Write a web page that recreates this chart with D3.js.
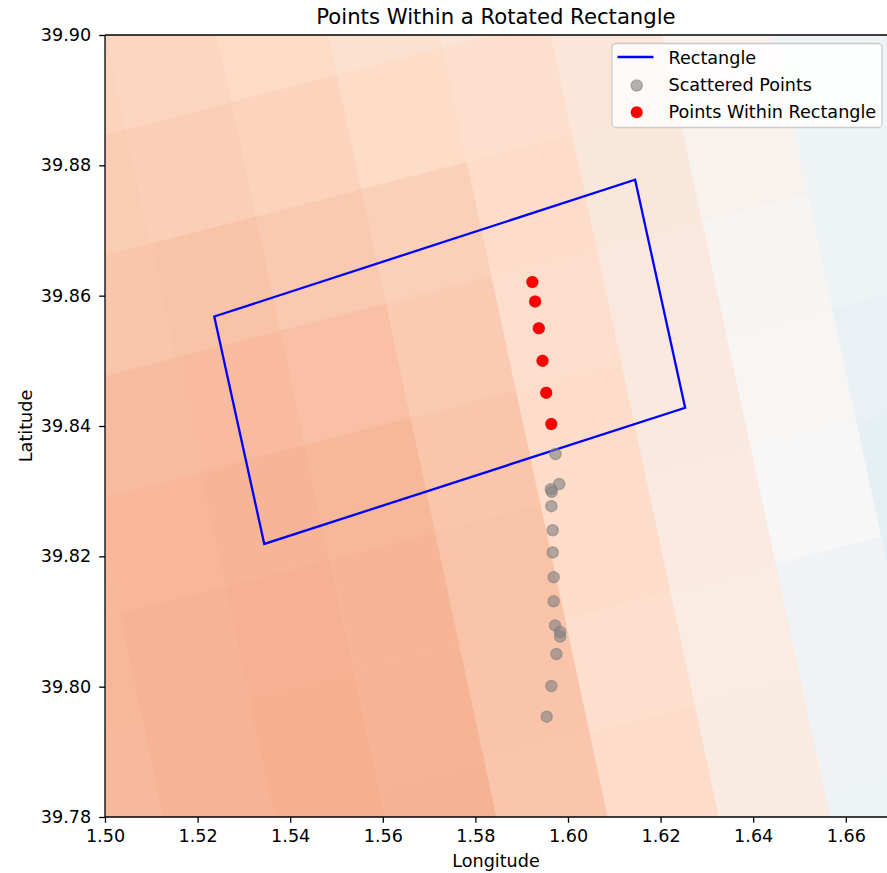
<!DOCTYPE html>
<html>
<head>
<meta charset="utf-8">
<script src="https://cdn.jsdelivr.net/npm/d3@7"></script>
<style>
body { margin: 0; background: #fff; }
text { font-family: "DejaVu Sans", sans-serif; fill: #000; }
</style>
</head>
<body>
<div id="container"></div>
<script>
// rectangle corners (lon, lat)
var rectLon = [1.5236, 1.6145, 1.6253, 1.5344];
var rectLat = [39.8568, 39.8778, 39.8428, 39.8219];

// scattered points (lon, lat)
var pointLon = [1.5923, 1.5929, 1.5937, 1.5945, 1.5953, 1.5964,
                1.5973, 1.5981, 1.5963, 1.5965, 1.5964, 1.5967, 1.5967,
                1.5969, 1.5969, 1.5972, 1.5983, 1.5983, 1.5975, 1.5964, 1.5954];
var pointLat = [39.8621, 39.8591, 39.8550, 39.8500, 39.8451, 39.8403,
                39.8357, 39.8311, 39.8303, 39.8299, 39.8277, 39.8240, 39.8206,
                39.8168, 39.8131, 39.8094, 39.8084, 39.8077, 39.8050, 39.8001, 39.7954];

var xTicks = [1.50, 1.52, 1.54, 1.56, 1.58, 1.60, 1.62, 1.64, 1.66];
var yTicks = [39.78, 39.80, 39.82, 39.84, 39.86, 39.88, 39.90];

// background mesh (rotated grid), values per cell, rows j = -1..7, columns i = -5..4
var meshOrigin = [1.57293, 39.89803];
var meshStepI = [0.022762, 0.004174];
var meshStepJ = [0.005301, -0.017520];
var meshI0 = -5, meshJ0 = -1;
var meshValues = [
    [0.23, 0.23, 0.22, 0.20, 0.16, 0.13, 0.10, 0.04, -0.04, -0.09],
    [0.26, 0.255, 0.245, 0.225, 0.195, 0.175, 0.125, 0.04, -0.045, -0.09],
    [0.28, 0.28, 0.29, 0.265, 0.24, 0.19, 0.115, 0.035, -0.045, -0.09],
    [0.31, 0.31, 0.32, 0.30, 0.26, 0.185, 0.105, 0.02, -0.05, -0.095],
    [0.33, 0.335, 0.34, 0.33, 0.278, 0.19, 0.10, 0.01, -0.07, -0.10],
    [0.33, 0.345, 0.355, 0.34, 0.29, 0.19, 0.09, 0.0, -0.09, -0.10],
    [0.326, 0.345, 0.359, 0.345, 0.285, 0.175, 0.085, -0.04, -0.10, -0.10],
    [0.326, 0.345, 0.359, 0.348, 0.278, 0.19, 0.086, -0.042, -0.10, -0.10],
    [0.326, 0.345, 0.359, 0.348, 0.278, 0.19, 0.086, -0.045, -0.10, -0.10]
];

var rdbu = ["#67001f", "#b2182b", "#d6604d", "#f4a582", "#fddbc7", "#f7f7f7",
            "#d1e5f0", "#92c5de", "#4393c3", "#2166ac", "#053061"];

var width = 887,
    height = 873;

var x = d3.scaleLinear().domain([1.50, 1.6689]).range([105, 887]);
var y = d3.scaleLinear().domain([39.78, 39.90]).range([817, 35]);

var color = d3.scaleLinear()
    .domain([1, 0.8, 0.6, 0.4, 0.2, 0, -0.2, -0.4, -0.6, -0.8, -1])
    .range(rdbu)
    .interpolate(d3.interpolateRgb);

var svg = d3.select("div#container").append("svg")
    .attr("width", width)
    .attr("height", height);

svg.append("defs").append("clipPath")
    .attr("id", "plot-clip")
    .append("rect")
    .attr("x", 105).attr("y", 35)
    .attr("width", 782).attr("height", 782);

var plot = svg.append("g").attr("clip-path", "url(#plot-clip)");

function meshPoint(i, j) {
    return [meshOrigin[0] + i * meshStepI[0] + j * meshStepJ[0],
            meshOrigin[1] + i * meshStepI[1] + j * meshStepJ[1]];
}

var cells = [];
meshValues.forEach(function (row, r) {
    row.forEach(function (val, c) {
        var i = meshI0 + c, j = meshJ0 + r;
        cells.push({
            value: val,
            corners: [meshPoint(i, j), meshPoint(i + 1, j), meshPoint(i + 1, j + 1), meshPoint(i, j + 1)]
        });
    });
});

var line = d3.line()
    .x(function (d) { return x(d[0]); })
    .y(function (d) { return y(d[1]); });

plot.selectAll(".cell")
    .data(cells)
    .enter().append("path")
    .attr("class", "cell")
    .attr("d", function (d) { return line(d.corners) + "Z"; })
    .style("fill", function (d) { return color(d.value); })
    .style("stroke", function (d) { return color(d.value); })
    .style("stroke-width", 0.6);

// rectangle
var rectPts = rectLon.map(function (lon, k) { return [lon, rectLat[k]]; });
plot.append("path")
    .attr("d", line(rectPts) + "Z")
    .style("fill", "none")
    .style("stroke", "#0000ff")
    .style("stroke-width", 2.3)
    .style("stroke-linejoin", "miter");

var points = pointLon.map(function (lon, k) { return [lon, pointLat[k]]; });
var inside = points.filter(function (p) { return d3.polygonContains(rectPts, p); });

// scatter: face and edge both translucent, like matplotlib with alpha
plot.selectAll(".pt")
    .data(points)
    .enter().append("circle")
    .attr("class", "pt")
    .attr("cx", function (d) { return x(d[0]); })
    .attr("cy", function (d) { return y(d[1]); })
    .attr("r", 5.6)
    .style("fill", "#808080")
    .style("fill-opacity", 0.6)
    .style("stroke", "#808080")
    .style("stroke-opacity", 0.6)
    .style("stroke-width", 1.3);

plot.selectAll(".inpt")
    .data(inside)
    .enter().append("circle")
    .attr("class", "inpt")
    .attr("cx", function (d) { return x(d[0]); })
    .attr("cy", function (d) { return y(d[1]); })
    .attr("r", 6)
    .style("fill", "#ff0000");

// axes
var xAxis = d3.axisBottom(x).tickValues(xTicks).tickFormat(d3.format(".2f")).tickSize(5.8).tickPadding(7).tickSizeOuter(0);
var yAxis = d3.axisLeft(y).tickValues(yTicks).tickFormat(d3.format(".2f")).tickSize(5.8).tickPadding(8).tickSizeOuter(0);

var gx = svg.append("g").attr("transform", "translate(0,817)").call(xAxis);
var gy = svg.append("g").attr("transform", "translate(105,0)").call(yAxis);

[gx, gy].forEach(function (g) {
    g.select(".domain").remove();
    g.selectAll("line").style("stroke", "#000").style("stroke-width", 1.3);
    g.selectAll("text").style("font-size", "17.6px").style("font-family", "DejaVu Sans").style("fill", "#000");
});

// spines
svg.append("line").attr("x1", 105).attr("x2", 887).attr("y1", 817).attr("y2", 817)
    .style("stroke", "#000").style("stroke-width", 1.3);
svg.append("line").attr("x1", 105).attr("x2", 887).attr("y1", 35).attr("y2", 35)
    .style("stroke", "#000").style("stroke-width", 1.3);
svg.append("line").attr("x1", 105).attr("x2", 105).attr("y1", 35).attr("y2", 817)
    .style("stroke", "#000").style("stroke-width", 1.3);

// labels
svg.append("text")
    .attr("x", 496).attr("y", 24)
    .attr("text-anchor", "middle")
    .style("font-size", "21.2px")
    .text("Points Within a Rotated Rectangle");

svg.append("text")
    .attr("x", 496).attr("y", 867)
    .attr("text-anchor", "middle")
    .style("font-size", "17.6px")
    .text("Longitude");

svg.append("text")
    .attr("transform", "translate(32,426) rotate(-90)")
    .attr("text-anchor", "middle")
    .style("font-size", "17.6px")
    .text("Latitude");

// legend
var legend = svg.append("g").attr("transform", "translate(612,43.5)");
legend.append("rect")
    .attr("width", 270).attr("height", 84)
    .attr("rx", 4).attr("ry", 4)
    .style("fill", "#ffffff").style("fill-opacity", 0.8)
    .style("stroke", "#cccccc").style("stroke-width", 1.3);

legend.append("line")
    .attr("x1", 5.5).attr("x2", 41.5).attr("y1", 13.5).attr("y2", 13.5)
    .style("stroke", "#0000ff").style("stroke-width", 2.3);
legend.append("circle")
    .attr("cx", 24.7).attr("cy", 42).attr("r", 5.6)
    .style("fill", "#808080").style("fill-opacity", 0.6)
    .style("stroke", "#808080").style("stroke-opacity", 0.6).style("stroke-width", 1.3);
legend.append("circle")
    .attr("cx", 24.7).attr("cy", 68.7).attr("r", 6)
    .style("fill", "#ff0000");

var legendLabels = ["Rectangle", "Scattered Points", "Points Within Rectangle"];
legend.selectAll(".ltext")
    .data(legendLabels)
    .enter().append("text")
    .attr("class", "ltext")
    .attr("x", 56.5)
    .attr("y", function (d, k) { return 20.5 + k * 27; })
    .style("font-size", "17.6px")
    .text(function (d) { return d; });
</script>
</body>
</html>
